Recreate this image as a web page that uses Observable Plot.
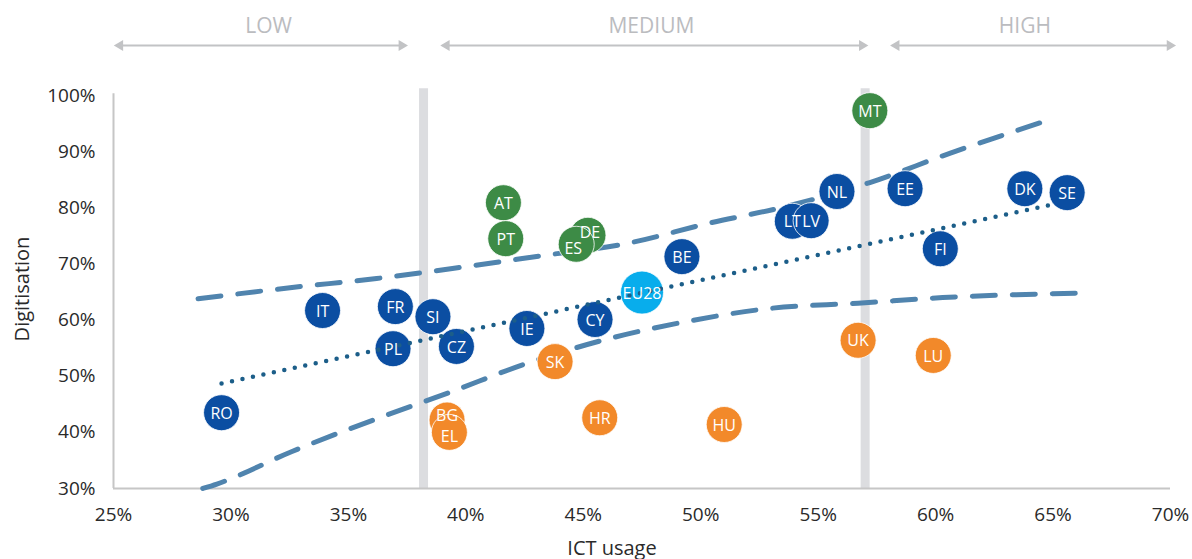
<!DOCTYPE html>
<html>
<head>
<meta charset="utf-8">
<script src="https://cdn.jsdelivr.net/npm/d3@7"></script>
<script src="https://cdn.jsdelivr.net/npm/@observablehq/plot@0.6"></script>
<style>
  html, body { margin: 0; padding: 0; background: #ffffff; }
  #chart svg { display: block; }
</style>
</head>
<body>
<div id="chart"></div>
<script>
// ---- Data ----
const countries = ["RO","IT","FR","PL","SI","CZ","BG","EL","AT","PT","IE","SK","DE","ES","CY","HR","EU28","BE","HU","LT","LV","NL","MT","UK","EE","LU","FI","DK","SE"];
const ictUsage = [29.6,33.9,37.0,36.9,38.6,39.6,39.2,39.3,41.6,41.7,42.6,43.8,45.2,44.7,45.5,45.7,47.5,49.2,51.0,53.9,54.7,55.8,57.2,56.7,58.7,59.9,60.2,63.8,65.6];
const digitisation = [43.5,61.7,62.4,54.9,60.6,55.3,42.2,40.0,80.9,74.5,58.5,52.6,75.1,73.5,60.1,42.6,64.9,71.3,41.4,77.6,77.7,82.9,97.3,56.4,83.4,53.7,72.7,83.4,82.7];
const groups = ["In line","In line","In line","In line","In line","In line","Below","Below","Above","Above","In line","Below","Above","Above","In line","Below","EU28","In line","Below","In line","In line","In line","Above","Below","In line","Below","In line","In line","In line"];

const groupNames = ["In line","Above","Below","EU28"];
const groupColors = ["#0b4ea2","#3d8b46","#f2892a","#08adec"];

// trend line (dotted) and band lines (dashed)
const trendX = [29.6, 65.2];
const trendY = [48.7, 80.8];
const upperX = [28.6, 32.6, 36.2, 39.8, 43.3, 46.8, 50.3, 53.8, 57.2, 60.6, 64.5];
const upperY = [63.8, 65.8, 67.4, 69.4, 71.5, 73.6, 77.2, 80.4, 84.5, 89.7, 95.2];
const lowerX = [28.8, 29.4, 32.6, 36.0, 39.3, 42.6, 46.1, 49.6, 53.0, 56.7, 60.3, 66.2];
const lowerY = [30.0, 30.8, 36.6, 42.1, 47.1, 52.3, 56.7, 59.9, 62.1, 63.0, 64.0, 64.8];

// ICT usage thresholds and tiers
const thresholds = [38.2, 57.0];
const tierNames = ["LOW", "MEDIUM", "HIGH"];
const tierStart = [25.15, 39.05, 58.2];
const tierEnd = [37.4, 57.0, 70.1];
const tierLabelX = [31.6, 47.9, 63.8];

const xTicks = [25,30,35,40,45,50,55,60,65,70];
const yTicks = [30,40,50,60,70,80,90,100];
const xTitle = "ICT usage";
const yTitle = "Digitisation";

// ---- Build tables ----
const points = countries.map((c, i) => ({country: c, x: ictUsage[i], y: digitisation[i], group: groups[i]}));
const trend = trendX.map((x, i) => ({x, y: trendY[i]}));
const upper = upperX.map((x, i) => ({x, y: upperY[i]}));
const lower = lowerX.map((x, i) => ({x, y: lowerY[i]}));
const tiers = tierNames.map((name, i) => ({name, start: tierStart[i], end: tierEnd[i], labelX: tierLabelX[i]}));

// small label nudges (pixels) where bubbles overlap
const nudgeY = {BG: -5, EL: 4, ES: 4, DE: -3};
const nudgeX = {ES: -3, DE: 2};

const FONT = "'Open Sans', 'Noto Sans', sans-serif";
const axisGray = "#c6c6c6";
const tierGray = "#c2c3c5";

const chart = Plot.plot({
  width: 1192,
  height: 559,
  marginLeft: 113,
  marginRight: 22,
  marginTop: 95,
  marginBottom: 71,
  style: {fontFamily: FONT, fontSize: "19px", color: "#2a2a2a", background: "#ffffff", overflow: "visible"},
  x: {domain: [25, 70], ticks: xTicks, tickFormat: d => d + "%", tickSize: 0, tickPadding: 19, label: null},
  y: {domain: [30, 100], ticks: yTicks, tickFormat: d => d + "%", tickSize: 0, tickPadding: 18, label: null},
  r: {type: "identity"},
  color: {domain: groupNames, range: groupColors},
  marks: [
    // threshold bands
    Plot.ruleX(thresholds, {y1: 30, y2: 101.2, stroke: "#dcdde0", strokeWidth: 9}),
    // axis lines
    Plot.ruleX([25], {y1: 30, y2: 100.3, stroke: axisGray, strokeWidth: 2}),
    Plot.ruleY([30], {x1: 25, x2: 70, stroke: axisGray, strokeWidth: 2}),
    // dashed band lines
    Plot.line(upper, {x: "x", y: "y", curve: "monotone-x", stroke: "#5084ae", strokeWidth: 5, strokeDasharray: "23 17"}),
    Plot.line(lower, {x: "x", y: "y", curve: "monotone-x", stroke: "#5084ae", strokeWidth: 5, strokeDasharray: "23 17"}),
    // country bubbles
    Plot.dot(points, {x: "x", y: "y", r: d => d.group === "EU28" ? 21.5 : 18, fill: "group", stroke: "#ffffff", strokeWidth: 1, strokeOpacity: 0.8}),
    // dotted trend line
    Plot.line(trend, {x: "x", y: "y", stroke: "#1c5e89", strokeWidth: 4.5, strokeDasharray: "0 10.7", strokeLinecap: "round"}),
    // labels (one mark per bubble so the small nudges stay constant per mark)
    ...points.map(p => Plot.text([p], {
      x: "x", y: "y", text: "country", fill: "#ffffff", fontSize: 16,
      dx: nudgeX[p.country] || 0, dy: 1 + (nudgeY[p.country] || 0)
    })),
    // tier arrows
    Plot.ruleY(tiers, {y: () => 100, x1: "start", x2: "end", dy: -50, stroke: tierGray, strokeWidth: 2}),
    Plot.dot(tiers, {x: "start", y: () => 100, dy: -50, dx: 3, symbol: "triangle", rotate: -90, r: 4, fill: tierGray}),
    Plot.dot(tiers, {x: "end", y: () => 100, dy: -50, dx: -3, symbol: "triangle", rotate: 90, r: 4, fill: tierGray}),
    Plot.text(tiers, {x: "labelX", y: () => 100, dy: -69, text: "name", fill: "#bbbcbf", fontSize: 21}),
    // axis titles
    Plot.text([xTitle], {frameAnchor: "bottom", lineAnchor: "middle", textAnchor: "middle", dx: -30, dy: 60, fontSize: 20, fill: "#2a2a2a"}),
    Plot.text([yTitle], {frameAnchor: "left", lineAnchor: "middle", textAnchor: "middle", rotate: -90, dx: -91, dy: -3, fontSize: 20, fill: "#2a2a2a"})
  ]
});

document.getElementById("chart").appendChild(chart);
</script>
</body>
</html>
